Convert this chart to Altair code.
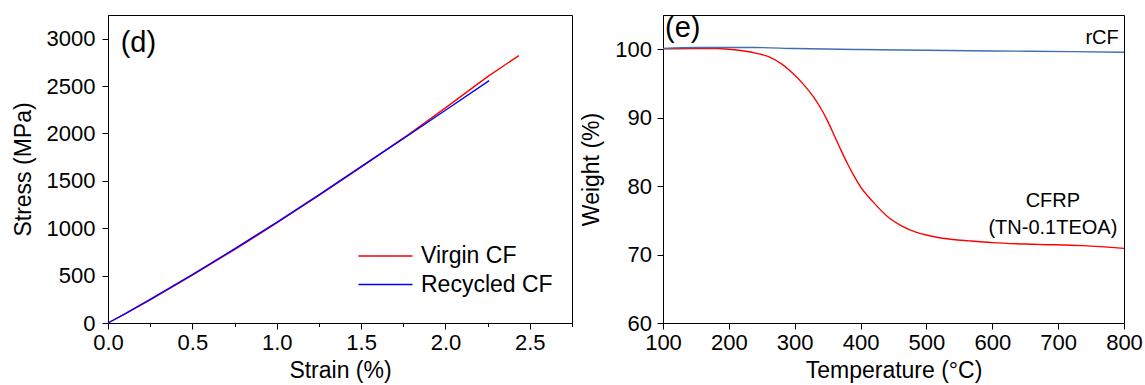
import altair as alt
import pandas as pd

FONT = "Liberation Sans"

# ---------------- (d) stress-strain data ----------------
strain_virgin = [0, 0.1, 0.25, 0.5, 0.75, 1.0, 1.25, 1.5, 1.75, 2.0, 2.25, 2.435]
stress_virgin = [0, 95, 245, 505, 775, 1055, 1345, 1645, 1950, 2270, 2600, 2822]
strain_recycled = [0, 0.1, 0.25, 0.5, 0.75, 1.0, 1.25, 1.5, 1.75, 2.0, 2.259]
stress_recycled = [0, 97, 250, 510, 782, 1062, 1352, 1650, 1945, 2245, 2558]
series_left = ["Virgin CF", "Recycled CF"]
colors_left = ["#FF0000", "#0000FF"]
xticks_left = [0, 0.25, 0.5, 0.75, 1.0, 1.25, 1.5, 1.75, 2.0, 2.25, 2.5, 2.75]
yticks_left = [0, 250, 500, 750, 1000, 1250, 1500, 1750, 2000, 2250, 2500, 2750, 3000, 3250]

# ---------------- (e) TGA data ----------------
temp_cfrp = [100, 150, 180, 200, 242, 262, 280, 297, 313, 328, 340, 350, 360, 370, 380,
             390, 400, 419, 444, 462, 485, 500, 520, 540, 565, 600, 662, 738, 800]
weight_cfrp = [100.05, 100.1, 100.1, 100.0, 99.4, 98.85, 97.85, 96.5, 94.9, 93.1, 91.3, 89.5,
               87.4, 85.3, 83.3, 81.5, 79.9, 77.7, 75.3, 74.2, 73.25, 72.85, 72.45, 72.2,
               72.0, 71.75, 71.5, 71.3, 70.9]
temp_rcf = [100, 150, 240, 300, 400, 500, 600, 720, 800]
weight_rcf = [100.1, 100.25, 100.25, 100.1, 99.95, 99.85, 99.75, 99.65, 99.55]
series_right = ["CFRP", "rCF"]
colors_right = ["#FF0000", "#3F6FB0"]
xticks_right = list(range(100, 801, 50))
yticks_right = list(range(60, 106, 5))

ann_text = ["rCF", "CFRP", "(TN-0.1TEOA)"]
ann_x = [792, 692, 692]
ann_y = [101.6, 77.8, 73.9]
ann_align = ["right", "center", "center"]


def rows(name, xs, ys):
    return [{"series": name, "x": a, "y": b} for a, b in zip(xs, ys)]


df_left = pd.DataFrame(rows("Virgin CF", strain_virgin, stress_virgin)
                       + rows("Recycled CF", strain_recycled, stress_recycled))
df_right = pd.DataFrame(rows("CFRP", temp_cfrp, weight_cfrp)
                        + rows("rCF", temp_rcf, weight_rcf))
df_ann = pd.DataFrame({"text": ann_text, "x": ann_x, "y": ann_y, "align": ann_align})
df_lab_left = pd.DataFrame({"text": ["(d)"], "x": [0.075], "y": [2950]})
df_lab_right = pd.DataFrame({"text": ["(e)"], "x": [103], "y": [103.1]})


def axis(title, values, minor_test, fmt, label_pad=4, title_pad=8):
    return alt.Axis(
        title=title, values=values, grid=False, labelFlush=False,
        labelOverlap=False, format=fmt,
        labelExpr=f"({minor_test}) ? '' : datum.label",
        tickSize={"condition": {"test": minor_test, "value": 3.5}, "value": 6},
        labelPadding=label_pad, titlePadding=title_pad,
    )


W_L, W_R, H = 464, 461, 308

xl = alt.X("x:Q", scale=alt.Scale(domain=[0, 2.75], nice=False, zero=False),
           axis=axis("Strain (%)", xticks_left, "round(datum.value*100) % 50 != 0", ".1f", 3, 6))
yl = alt.Y("y:Q", scale=alt.Scale(domain=[0, 3250], nice=False, zero=False),
           axis=axis("Stress (MPa)", yticks_left, "datum.value % 500 != 0", "d", 7, 11))

lines_left = alt.Chart(df_left).mark_line(strokeWidth=1.4).encode(
    x=xl, y=yl,
    color=alt.Color("series:N", sort=series_left,
                    scale=alt.Scale(domain=series_left, range=colors_left),
                    legend=alt.Legend(
                        title=None, orient="none", legendX=266, legendY=229.5,
                        symbolType="M-2.7,0H2.7", symbolSize=400, symbolStrokeWidth=1.4,
                        labelFont=FONT, labelFontSize=23, labelColor="black",
                        labelOffset=24, rowPadding=4.5, padding=0,
                    )),
)
text_left = alt.Chart(df_lab_left).mark_text(
    font=FONT, fontSize=29, align="left", baseline="middle", color="black"
).encode(x=alt.X("x:Q"), y=alt.Y("y:Q"), text="text:N")

left = alt.layer(lines_left, text_left).properties(width=W_L, height=H)

xr = alt.X("x:Q", scale=alt.Scale(domain=[100, 800], nice=False, zero=False),
           axis=axis("Temperature (°C)", xticks_right, "datum.value % 100 != 0", "d", 3, 6))
yr = alt.Y("y:Q", scale=alt.Scale(domain=[60, 105], nice=False, zero=False),
           axis=axis("Weight (%)", yticks_right, "datum.value % 10 != 0", "d", 5.5, 11))

lines_right = alt.Chart(df_right).mark_line(strokeWidth=1.4, interpolate="monotone").encode(
    x=xr, y=yr,
    color=alt.Color("series:N", scale=alt.Scale(domain=series_right, range=colors_right),
                    legend=None),
)
ann_r1 = alt.Chart(df_ann[df_ann["align"] == "right"]).mark_text(
    font=FONT, fontSize=20, align="right", baseline="middle", color="black"
).encode(x=alt.X("x:Q"), y=alt.Y("y:Q"), text="text:N")
ann_r2 = alt.Chart(df_ann[df_ann["align"] == "center"]).mark_text(
    font=FONT, fontSize=20, align="center", baseline="middle", color="black"
).encode(x=alt.X("x:Q"), y=alt.Y("y:Q"), text="text:N")
text_right = alt.Chart(df_lab_right).mark_text(
    font=FONT, fontSize=29, align="left", baseline="middle", color="black"
).encode(x=alt.X("x:Q"), y=alt.Y("y:Q"), text="text:N")

right = alt.layer(lines_right, ann_r1, ann_r2, text_right).properties(width=W_R, height=H)

chart = alt.hconcat(left, right, spacing=7).resolve_scale(color="independent").properties(
    padding={"left": 11, "top": 13, "right": 0, "bottom": 0},
    background="white",
).configure_view(
    stroke="black", strokeWidth=1
).configure_axis(
    labelFont=FONT, titleFont=FONT, labelFontSize=22, titleFontSize=23,
    labelColor="black", titleColor="black", titleFontWeight="normal",
    domainColor="black", tickColor="black", domainWidth=1, tickWidth=1,
)

chart.save("out.html", embed_options={"renderer": "svg", "actions": False})
